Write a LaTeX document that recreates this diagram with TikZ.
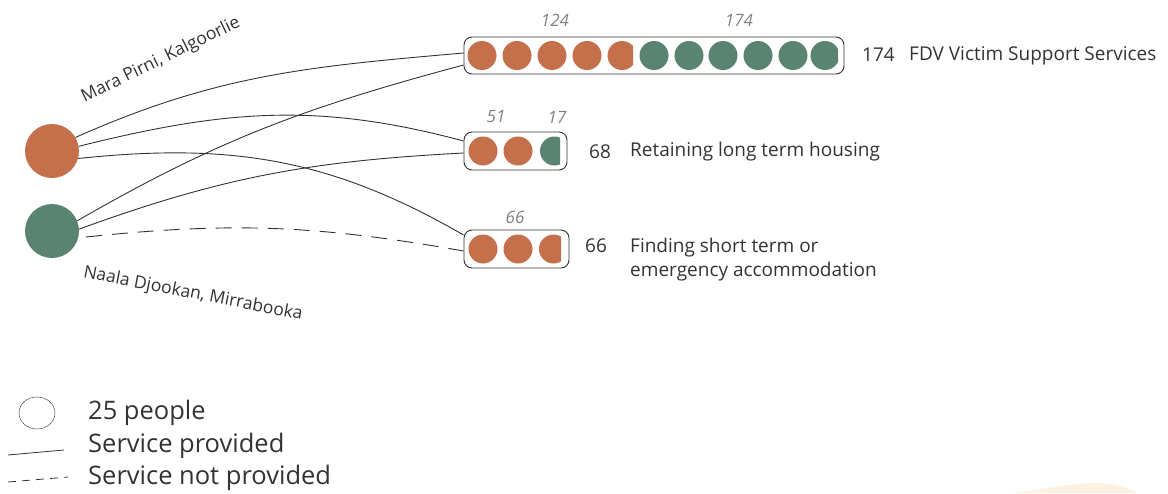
\documentclass[tikz,border=0pt]{standalone}
\usepackage{fontspec}
\setmainfont{Open Sans}
\usepackage{xcolor}
\usetikzlibrary{positioning,shapes.geometric}
\definecolor{ochre}{HTML}{C4704B}
\definecolor{sage}{HTML}{5A8471}
\definecolor{ink}{HTML}{333333}
\definecolor{cream}{HTML}{FBF2E3}
\newcommand{\cutdot}[4]{\begin{scope}\clip (#1-16,#2-16) rectangle (#3,#2+16); \fill[#4] (#1,#2) circle (14.5pt);\end{scope}}

\begin{document}
\begin{tikzpicture}[x=1pt,y=-1pt,
	person/.style={circle,minimum size=54pt,inner sep=0pt},
	group/.style={draw=ink,rounded corners=8pt,minimum height=37pt,line width=0.9pt},
	link/.style={draw=ink,line width=0.9pt},
	count/.style={font=\fontsize{17}{20}\selectfont\itshape,text=gray},
	lab/.style={anchor=west,inner sep=0pt,font=\fontsize{19}{24}\selectfont,text=ink},
	leg/.style={anchor=west,inner sep=0pt,font=\fontsize{25.5}{27}\selectfont,text=ink}]
	\useasboundingbox (0,0) rectangle (1168,493);
	\fill[cream] (1012,493) .. controls (1050,488) and (1080,482) .. (1100,483) .. controls (1118,484) and (1130,489) .. (1138,493) -- cycle;

	% people
	\node[person,fill=ochre] (ora) at (52,151) {};
	\node[person,fill=sage] (grn) at (52,231) {};
	\node[font=\fontsize{17.5}{20}\selectfont,text=ink,rotate=26] (oraname) at (161,60) {Mara Pirni, Kalgoorlie};
	\node[font=\fontsize{17.5}{20}\selectfont,text=ink,rotate=-11] (grnname) at (193,294) {Naala Djookan, Mirrabooka};

	% services
	\node[group,minimum width=380pt] (fdv) at (654,55.5) {};
	\node[group,minimum width=103pt,minimum height=38pt] (hous) at (515.5,151) {};
	\node[group,minimum width=105pt,minimum height=38pt] (accom) at (516.5,249) {};

	\foreach \x in {482,517,552,587} \fill[ochre] (\x,55.5) circle (14.5pt);
	\cutdot{622}{55.5}{633}{ochre}
	\foreach \x in {654,689,723,758,793} \fill[sage] (\x,55.5) circle (14.5pt);
	\cutdot{825}{55.5}{838}{sage}
	\foreach \x in {483,518} \fill[ochre] (\x,151) circle (14.5pt);
	\cutdot{554.5}{151}{560}{sage}
	\foreach \x in {483,518} \fill[ochre] (\x,249) circle (14.5pt);
	\cutdot{553.5}{249}{561}{ochre}

	\node[count] (c1) at (555,20) {124};
	\node[count] (c2) at (739,20) {174};
	\node[count] (c3) at (496,117) {51};
	\node[count] (c4) at (557,117) {17};
	\node[count] (c5) at (515,217) {66};

	\node[lab] (n1) at (862,55) {174};
	\node[lab] (t1) at (909,56) {FDV Victim Support Services};
	\node[lab] (n2) at (589,152) {68};
	\node[lab] (t2) at (630,152) {Retaining long term housing};
	\node[lab] (n3) at (585,246) {66};
	\node[lab,align=left] (t3) at (630,260) {Finding short term or\\emergency accommodation};

	% links
	\coordinate (gap) at (86,237);
	\draw[link] (ora.30) to[out=24,in=185] ([yshift=2.5pt]fdv.west);
	\draw[link] (ora.10) to[out=14,in=165] ([yshift=10pt]hous.west);
	\draw[link] (ora.-16) to[out=6,in=150] ([yshift=14pt]accom.west);
	\draw[link] (grn.22) to[out=30,in=195] ([yshift=-9.5pt]fdv.west);
	\draw[link] (grn.4) to[out=20,in=183] ([yshift=-2pt]hous.west);
	\draw[link,dash pattern=on 16pt off 10pt] (gap) to[out=6,in=170] ([yshift=-2pt]accom.west);

	% legend
	\node[ellipse,draw=ink,minimum width=36pt,minimum height=32pt,inner sep=0pt] (key) at (37,413) {};
	\node[leg] (k1) at (88,413) {25 people};
	\node[leg] (k2) at (88,446) {Service provided};
	\node[leg] (k3) at (88,478) {Service not provided};
	\coordinate (s0) at (8,455); \coordinate (s1) at (64,450);
	\coordinate (d0) at (8,482); \coordinate (d1) at (68,477);
	\draw[ink,line width=0.8pt] (s0) -- (s1);
	\draw[ink,line width=0.8pt,dash pattern=on 8pt off 6pt] (d0) -- (d1);
\end{tikzpicture}
\end{document}
